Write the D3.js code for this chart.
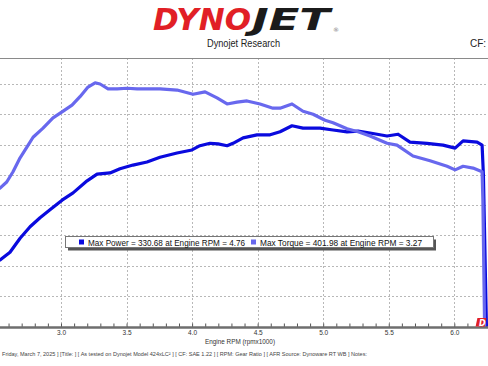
<!DOCTYPE html>
<html>
<head>
<meta charset="utf-8">
<script src="https://cdn.jsdelivr.net/npm/d3@7"></script>
<style>
  html, body { margin: 0; padding: 0; background: #fff; }
  svg { display: block; }
</style>
</head>
<body>
<svg id="chart" width="488" height="366"></svg>
<script>
// ---- Data ----
const torqueRpm = [2.535, 2.586, 2.634, 2.688, 2.741, 2.787, 2.863, 2.939, 3.008, 3.084, 3.145, 3.206, 3.260, 3.298, 3.359, 3.428, 3.504, 3.580, 3.679, 3.755, 3.885, 4.007, 4.099, 4.190, 4.267, 4.343, 4.419, 4.518, 4.617, 4.671, 4.762, 4.846, 4.923, 5.014, 5.075, 5.182, 5.266, 5.357, 5.487, 5.563, 5.685, 5.815, 5.945, 6.006, 6.067, 6.143, 6.212, 6.218, 6.231];
const torqueVals = [228, 238, 255, 278, 296, 312, 327, 344, 354, 365, 379, 395, 402, 400, 392, 392, 393, 392, 392, 392, 390, 383, 387, 377, 367, 370, 372, 367, 360, 360, 367, 355, 350, 340, 336, 326, 321, 314, 302, 299, 281, 273, 264, 258, 264, 261, 255, 208, 0];

const powerRpm = [2.535, 2.611, 2.688, 2.764, 2.840, 2.916, 3.008, 3.092, 3.199, 3.275, 3.374, 3.450, 3.549, 3.656, 3.755, 3.885, 3.999, 4.060, 4.137, 4.198, 4.267, 4.312, 4.389, 4.495, 4.595, 4.671, 4.762, 4.846, 4.976, 5.075, 5.182, 5.266, 5.357, 5.487, 5.571, 5.662, 5.792, 5.914, 6.006, 6.067, 6.174, 6.212, 6.222, 6.245];
const powerVals = [109, 122, 145, 164, 179, 192, 208, 220, 240, 251, 253, 260, 266, 271, 279, 286, 291, 298, 302, 301, 298, 302, 311, 316, 316, 321, 331, 327, 327, 324, 321, 322, 319, 314, 317, 304, 302, 299, 294, 306, 304, 299, 250, 0];

const majorTicks = [3.0, 3.5, 4.0, 4.5, 5.0, 5.5, 6.0];
const minorTicks = [2.6, 2.7, 2.8, 2.9, 3.0, 3.1, 3.2, 3.3, 3.4, 3.5, 3.6, 3.7, 3.8, 3.9, 4.0, 4.1, 4.2, 4.3, 4.4, 4.5, 4.6, 4.7, 4.8, 4.9, 5.0, 5.1, 5.2, 5.3, 5.4, 5.5, 5.6, 5.7, 5.8, 5.9, 6.0, 6.1, 6.2];
const gridValues = [50, 100, 150, 200, 250, 300, 350, 400];

const legendItems = ["Max Power = 330.68 at Engine RPM = 4.76", "Max Torque = 401.98 at Engine RPM = 3.27"];
const xTitle = "Engine RPM (rpmx1000)";
const footer = "Friday, March 7, 2025 ] [Title: ]  [ As tested on Dynojet Model 424xLC\u00b2 ] [ CF: SAE 1.22 ] [ RPM: Gear Ratio ] [ AFR Source: Dynoware RT WB ] Notes:";

// ---- Layout ----
const W = 488, H = 366;
const plotTop = 58, axisY = 327.5;
const powerColor = "#0a0ade", torqueColor = "#6868ee";

const svg = d3.select("#chart");
const x = d3.scaleLinear().domain([3.0, 6.0]).range([61, 454.3]);
const y = d3.scaleLinear().domain([0, 400]).range([326, 84]);

// Header logo
const logo = svg.append("g");
logo.append("text").attr("x", 153).attr("y", 30)
  .attr("font-family", "DejaVu Sans").attr("font-weight", "bold").attr("font-style", "italic")
  .attr("font-size", 31).attr("fill", "#e11f26")
  .attr("textLength", 98).attr("lengthAdjust", "spacingAndGlyphs").text("DYNO");
logo.append("text").attr("x", 252).attr("y", 30)
  .attr("font-family", "DejaVu Sans").attr("font-weight", "bold").attr("font-style", "italic")
  .attr("font-size", 31).attr("fill", "#1b1b1b")
  .attr("textLength", 78).attr("lengthAdjust", "spacingAndGlyphs").text("JET");
logo.append("text").attr("x", 333).attr("y", 32)
  .attr("font-family", "DejaVu Sans").attr("font-size", 6).attr("fill", "#777").text("\u00ae");

svg.append("text").attr("x", 243.5).attr("y", 47).attr("text-anchor", "middle")
  .attr("font-family", "Liberation Sans, Arial, sans-serif").attr("font-size", 10).attr("fill", "#222")
  .attr("textLength", 73).attr("lengthAdjust", "spacingAndGlyphs").text("Dynojet Research");
svg.append("text").attr("x", 470).attr("y", 47)
  .attr("font-family", "Liberation Sans, Arial, sans-serif").attr("font-size", 10).attr("fill", "#222")
  .text("CF: SAE 1.22");

// Clip
svg.append("defs").append("clipPath").attr("id", "plotClip")
  .append("rect").attr("x", 0).attr("y", plotTop).attr("width", W).attr("height", axisY - plotTop);

// Grid
const grid = svg.append("g");
grid.selectAll("line.h").data(gridValues).join("line")
  .attr("x1", 0).attr("x2", W).attr("y1", d => Math.round(y(d)) + 0.5).attr("y2", d => Math.round(y(d)) + 0.5)
  .attr("stroke", "#b8b8b8").attr("stroke-width", 1).attr("stroke-dasharray", "2,2");
grid.selectAll("line.v").data(majorTicks).join("line")
  .attr("x1", d => Math.round(x(d)) + 0.5).attr("x2", d => Math.round(x(d)) + 0.5)
  .attr("y1", plotTop).attr("y2", axisY)
  .attr("stroke", "#b8b8b8").attr("stroke-width", 1).attr("stroke-dasharray", "2,2");

// Top border
svg.append("line").attr("x1", 0).attr("x2", W).attr("y1", plotTop + 0.5).attr("y2", plotTop + 0.5)
  .attr("stroke", "#8a8a8a").attr("stroke-width", 1.2);

// Curves
const line = d3.line().x(d => x(d[0])).y(d => y(d[1])).curve(d3.curveLinear);
const powerData = powerRpm.map((r, i) => [r, powerVals[i]]);
const torqueData = torqueRpm.map((r, i) => [r, torqueVals[i]]);
const curves = svg.append("g").attr("clip-path", "url(#plotClip)");
curves.append("path").datum(powerData).attr("d", line)
  .attr("fill", "none").attr("stroke", powerColor).attr("stroke-width", 3.2)
  .attr("stroke-linejoin", "round").attr("stroke-linecap", "round");
curves.append("path").datum(torqueData).attr("d", line)
  .attr("fill", "none").attr("stroke", torqueColor).attr("stroke-width", 3.2)
  .attr("stroke-linejoin", "round").attr("stroke-linecap", "round");

// Legend
const lg = svg.append("g");
lg.append("rect").attr("x", 68).attr("y", 239.5).attr("width", 368).attr("height", 11).attr("fill", "#555");
lg.append("rect").attr("x", 65.5).attr("y", 236.5).attr("width", 368).attr("height", 11)
  .attr("fill", "#fff").attr("stroke", "#777").attr("stroke-width", 1);
const lgX = [79, 251], lgTextX = [88, 260], lgLen = [157, 162], lgCol = [powerColor, torqueColor];
legendItems.forEach((t, i) => {
  lg.append("rect").attr("x", lgX[i]).attr("y", 239.5).attr("width", 5).attr("height", 5).attr("fill", lgCol[i]);
  lg.append("text").attr("x", lgTextX[i]).attr("y", 245.5)
    .attr("font-family", "Liberation Sans, Arial, sans-serif").attr("font-size", 8.5).attr("fill", "#111")
    .attr("textLength", lgLen[i]).attr("lengthAdjust", "spacingAndGlyphs").text(t);
});

// X axis
const axG = svg.append("g").attr("transform", `translate(0,${axisY})`);
axG.call(d3.axisBottom(x).tickValues(minorTicks).tickSize(-4).tickFormat(""))
  .call(g => g.select(".domain").remove())
  .call(g => g.selectAll(".tick line").attr("stroke", "#555").attr("stroke-width", 1));
svg.append("line").attr("x1", 0).attr("x2", W).attr("y1", axisY).attr("y2", axisY)
  .attr("stroke", "#6e6e6e").attr("stroke-width", 2.6);
const lab = svg.append("g").attr("transform", `translate(0,${axisY})`);
lab.call(d3.axisBottom(x).tickValues(majorTicks).tickSize(0).tickPadding(3).tickFormat(d3.format(".1f")))
  .call(g => g.select(".domain").remove())
  .call(g => g.selectAll("text").attr("font-family", "Liberation Sans, Arial, sans-serif")
    .attr("font-size", 6.5).attr("fill", "#333"));

svg.append("text").attr("x", 240).attr("y", 344).attr("text-anchor", "middle")
  .attr("font-family", "Liberation Sans, Arial, sans-serif").attr("font-size", 7).attr("fill", "#333")
  .attr("textLength", 70).attr("lengthAdjust", "spacingAndGlyphs").text(xTitle);

// Small red Dynojet mark bottom right
svg.append("rect").attr("x", 477).attr("y", 318).attr("width", 9).attr("height", 8.5)
  .attr("fill", "#e11f26").attr("transform", "skewX(-12) translate(68,0)");
svg.append("text").attr("x", 479).attr("y", 325.5)
  .attr("font-family", "DejaVu Sans").attr("font-weight", "bold").attr("font-style", "italic")
  .attr("font-size", 8).attr("fill", "#fff").text("D");

// Footer
svg.append("text").attr("x", 2).attr("y", 356)
  .attr("font-family", "Liberation Sans, Arial, sans-serif").attr("font-size", 5.2).attr("fill", "#444")
  .attr("textLength", 365).attr("lengthAdjust", "spacingAndGlyphs").text(footer);
</script>
</body>
</html>
